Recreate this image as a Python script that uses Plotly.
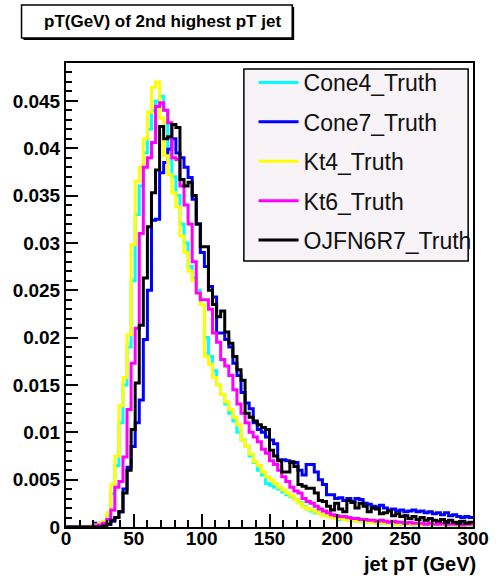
import numpy as np
import plotly.graph_objects as go

# ---------------- data ----------------
bin_low, bin_high, bin_width = 0, 300, 3

series_names = ["Cone4_Truth", "Cone7_Truth", "Kt4_Truth", "Kt6_Truth", "OJFN6R7_Truth"]
series_colors = ["#00ffff", "#0000ff", "#ffff00", "#ff00ff", "#000000"]

cone4 = [
    0, 0, 0, 0, 0, 0, 0.0001, 0.0002, 0.0003, 0.0005,
    0.0012, 0.0035, 0.0065, 0.0110, 0.0150, 0.0190, 0.0260, 0.0330, 0.0360, 0.0395,
    0.0420, 0.0440, 0.0450, 0.0455, 0.0440, 0.0400, 0.0370, 0.0350, 0.0320, 0.0300,
    0.0275, 0.0263, 0.0250, 0.0235, 0.0200, 0.0180, 0.0165, 0.0150, 0.0140, 0.0130,
    0.0120, 0.0112, 0.0100, 0.0092, 0.0085, 0.0075, 0.0068, 0.0060, 0.0055, 0.0046,
    0.0044, 0.0042, 0.0040, 0.0037, 0.0034, 0.0032, 0.0029, 0.0026, 0.0022, 0.0019,
    0.0017, 0.0015, 0.0014, 0.0013, 0.0012, 0.0010, 0.0009, 0.0008, 0.0008, 0.0007,
    0.0007, 0.0006, 0.0006, 0.0005, 0.0006, 0.0005, 0.0004, 0.0004, 0.0005, 0.0004,
    0.0003, 0.0004, 0.0003, 0.0003, 0.0003, 0.0002, 0.0003, 0.0003, 0.0002, 0.0002,
    0.0003, 0.0002, 0.0002, 0.0002, 0.0001, 0.0002, 0.0002, 0.0001, 0.0002, 0.0001,
]
cone7 = [
    0, 0, 0, 0, 0, 0, 0, 0.0004, 0.0001, 0.0002,
    0.0003, 0.0006, 0.0010, 0.0016, 0.0040, 0.0063, 0.0085, 0.0110, 0.0134, 0.0198,
    0.0250, 0.0324, 0.0325, 0.0374, 0.0385, 0.0399, 0.0410, 0.0395, 0.0390, 0.0380,
    0.0369, 0.0346, 0.0320, 0.0290, 0.0275, 0.0254, 0.0243, 0.0205, 0.0205, 0.0198,
    0.0190, 0.0173, 0.0160, 0.0142, 0.0131, 0.0125, 0.0110, 0.0103, 0.0100, 0.0095,
    0.0092, 0.0088, 0.0071, 0.0071, 0.0070, 0.0068, 0.0068, 0.0060, 0.0055, 0.0066,
    0.0066, 0.0058, 0.0050, 0.0045, 0.0034, 0.0034, 0.0030, 0.0031, 0.0028, 0.0030,
    0.0027, 0.0030, 0.0029, 0.0025, 0.0024, 0.0022, 0.0021, 0.0023, 0.0020, 0.0018,
    0.0019, 0.0017, 0.0018, 0.0016, 0.0017, 0.0018, 0.0016, 0.0017, 0.0015, 0.0016,
    0.0014, 0.0015, 0.0013, 0.0015, 0.0012, 0.0013, 0.0011, 0.0010, 0.0011, 0.0010,
]
kt4 = [
    0, 0, 0, 0, 0, 0, 0.0001, 0.0002, 0.0004, 0.0006,
    0.0015, 0.0045, 0.0075, 0.0128, 0.0158, 0.0203, 0.0298, 0.0365, 0.0380, 0.0410,
    0.0438, 0.0464, 0.0470, 0.0432, 0.0392, 0.0372, 0.0353, 0.0338, 0.0307, 0.0290,
    0.0270, 0.0260, 0.0247, 0.0235, 0.0180, 0.0172, 0.0158, 0.0150, 0.0140, 0.0132,
    0.0124, 0.0116, 0.0108, 0.0092, 0.0085, 0.0077, 0.0069, 0.0065, 0.0058, 0.0053,
    0.0050, 0.0046, 0.0042, 0.0039, 0.0036, 0.0033, 0.0029, 0.0025, 0.0021, 0.0019,
    0.0018, 0.0016, 0.0014, 0.0012, 0.0011, 0.0010, 0.0009, 0.0009, 0.0008, 0.0007,
    0.0007, 0.0006, 0.0007, 0.0005, 0.0005, 0.0005, 0.0004, 0.0005, 0.0004, 0.0004,
    0.0004, 0.0003, 0.0004, 0.0003, 0.0003, 0.0003, 0.0003, 0.0002, 0.0003, 0.0002,
    0.0002, 0.0003, 0.0002, 0.0002, 0.0002, 0.0002, 0.0002, 0.0001, 0.0002, 0.0002,
]
kt6 = [
    0, 0, 0, 0, 0, 0, 0, 0.0001, 0.0002, 0.0004,
    0.0008, 0.0018, 0.0042, 0.0048, 0.0074, 0.0124, 0.0173, 0.0210, 0.0310, 0.0380,
    0.0390, 0.0406, 0.0444, 0.0448, 0.0440, 0.0427, 0.0390, 0.0388, 0.0360, 0.0340,
    0.0320, 0.0280, 0.0247, 0.0240, 0.0240, 0.0230, 0.0205, 0.0195, 0.0177, 0.0170,
    0.0160, 0.0145, 0.0130, 0.0120, 0.0110, 0.0100, 0.0095, 0.0090, 0.0082, 0.0078,
    0.0070, 0.0066, 0.0060, 0.0053, 0.0048, 0.0042, 0.0038, 0.0036, 0.0030, 0.0027,
    0.0025, 0.0022, 0.0019, 0.0017, 0.0015, 0.0013, 0.0012, 0.0011, 0.0011, 0.0010,
    0.0009, 0.0009, 0.0008, 0.0008, 0.0007, 0.0007, 0.0006, 0.0007, 0.0006, 0.0005,
    0.0006, 0.0005, 0.0005, 0.0004, 0.0005, 0.0004, 0.0004, 0.0004, 0.0003, 0.0004,
    0.0003, 0.0003, 0.0004, 0.0003, 0.0003, 0.0003, 0.0003, 0.0002, 0.0003, 0.0003,
]
ojfn6r7 = [
    0, 0, 0, 0, 0, 0, 0, 0, 0, 0.0001,
    0.0003, 0.0007, 0.0010, 0.0016, 0.0036, 0.0060, 0.0103, 0.0152, 0.0213, 0.0263,
    0.0317, 0.0353, 0.0377, 0.0423, 0.0410, 0.0412, 0.0425, 0.0422, 0.0367, 0.0360,
    0.0364, 0.0350, 0.0320, 0.0296, 0.0296, 0.0250, 0.0235, 0.0222, 0.0228, 0.0206,
    0.0194, 0.0180, 0.0166, 0.0155, 0.0120, 0.0116, 0.0112, 0.0108, 0.0105, 0.0103,
    0.0081, 0.0075, 0.0070, 0.0058, 0.0058, 0.0069, 0.0064, 0.0045, 0.0043, 0.0041,
    0.0041, 0.0036, 0.0028, 0.0027, 0.0022, 0.0018, 0.0025, 0.0019, 0.0016, 0.0028,
    0.0026, 0.0020, 0.0025, 0.0022, 0.0016, 0.0020, 0.0019, 0.0014, 0.0015, 0.0017,
    0.0012, 0.0014, 0.0011, 0.0012, 0.0009, 0.0011, 0.0008, 0.0010, 0.0007, 0.0009,
    0.0007, 0.0006, 0.0008, 0.0005, 0.0007, 0.0005, 0.0004, 0.0006, 0.0004, 0.0005,
]
series_values = [cone4, cone7, kt4, kt6, ojfn6r7]

x_tick_values = [0, 50, 100, 150, 200, 250, 300]
y_tick_values = [0, 0.005, 0.01, 0.015, 0.02, 0.025, 0.03, 0.035, 0.04, 0.045]
y_tick_labels = ["0", "0.005", "0.01", "0.015", "0.02", "0.025", "0.03", "0.035", "0.04", "0.045"]

title_text = "pT(GeV) of 2nd highest pT jet"
x_title_text = "jet pT (GeV)"

# ---------------- figure ----------------
W, H = 501, 576
ML, MR, MT, MB = 66, 14, 63, 49
PW, PH = W - ML - MR, H - MT - MB

def px_x(p):
    return (p - ML) / PW

def px_y(p):
    return (H - MB - p) / PH

edges = np.arange(bin_low, bin_high + bin_width, bin_width)

fig = go.Figure()
for i, (name, color, vals) in enumerate(zip(series_names, series_colors, series_values)):
    yv = list(vals) + [vals[-1]]
    fig.add_trace(go.Scatter(
        x=edges, y=yv, mode="lines", name=name,
        line=dict(color=color, width=3, shape="hv"),
        legendgroup=f"g{i}",
    ))

FONT = "Liberation Sans, Arial, sans-serif"
tick_font = dict(family=FONT, size=19, color="black", weight="bold")

fig.update_layout(
    width=W, height=H,
    margin=dict(l=ML, r=MR, t=MT, b=MB, pad=0),
    paper_bgcolor="white", plot_bgcolor="white",
    showlegend=True,
    legend=dict(
        x=px_x(260), y=px_y(61), xanchor="left", yanchor="top",
        bgcolor="rgba(0,0,0,0)", borderwidth=0,
        font=dict(family=FONT, size=23, color="#111"),
        traceorder="grouped", tracegroupgap=6.5,
        itemwidth=40,
    ),
    xaxis=dict(
        range=[bin_low, bin_high], tickvals=x_tick_values,
        ticks="inside", ticklen=13, tickwidth=1.5, tickcolor="black",
        minor=dict(dtick=10, ticks="inside", ticklen=7, tickwidth=1.5, tickcolor="black"),
        showline=True, linecolor="black", linewidth=2, mirror=True,
        showgrid=False, zeroline=False, tickfont=tick_font,
        ticklabeloverflow="allow", ticklabelstandoff=-7,
    ),
    yaxis=dict(
        range=[0, 0.049], tickvals=y_tick_values, ticktext=y_tick_labels,
        ticks="inside", ticklen=12, tickwidth=1.5, tickcolor="black",
        minor=dict(dtick=0.001, ticks="inside", ticklen=6, tickwidth=1.5, tickcolor="black"),
        showline=True, linecolor="black", linewidth=2, mirror=True,
        showgrid=False, zeroline=False, tickfont=tick_font,
    ),
    shapes=[
        # title box with shadow
        dict(type="rect", xref="paper", yref="paper",
             x0=px_x(22), x1=px_x(302), y0=px_y(40), y1=px_y(7),
             fillcolor="black", line=dict(width=0), layer="above"),
        dict(type="rect", xref="paper", yref="paper",
             x0=px_x(20), x1=px_x(300), y0=px_y(38), y1=px_y(5),
             fillcolor="white", line=dict(color="black", width=1.5), layer="above"),
        # legend box
        dict(type="rect", xref="paper", yref="paper",
             x0=px_x(250), x1=px_x(482), y0=px_y(261), y1=px_y(69),
             fillcolor="#f7f3f7", line=dict(color="black", width=1.5), layer="above"),
    ],
    annotations=[
        dict(text=title_text, xref="paper", yref="paper",
             x=px_x(166), y=px_y(22), xanchor="center", yanchor="middle",
             showarrow=False,
             font=dict(family=FONT, size=17, color="black", weight="bold")),
        dict(text=x_title_text, xref="paper", yref="paper",
             x=px_x(492), y=px_y(564), xanchor="right", yanchor="middle",
             showarrow=False,
             font=dict(family=FONT, size=20, color="black", weight="bold")),
    ],
)

fig.write_html("out.html", config={"displayModeBar": False},
               post_script="document.body.style.margin='0';")
